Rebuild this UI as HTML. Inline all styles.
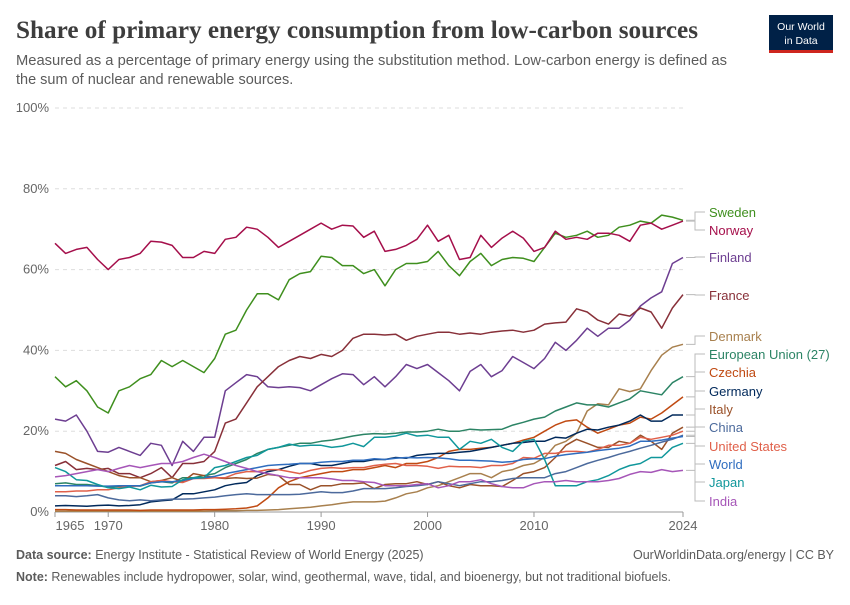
<!DOCTYPE html>
<html><head><meta charset="utf-8"><style>
body{margin:0;background:#fff;font-family:"Liberation Sans",sans-serif;}
</style></head><body>
<svg id="chart" width="850" height="600" viewBox="0 0 850 600" xmlns="http://www.w3.org/2000/svg" font-family="Liberation Sans, sans-serif">
<text x="16" y="38" style="font-family:'Liberation Serif',serif" font-weight="bold" font-size="25" fill="#3d3d3d" textLength="682" lengthAdjust="spacingAndGlyphs">Share of primary energy consumption from low-carbon sources</text>
<text x="16" y="65" font-size="14.5" fill="#5b5b5b" textLength="711" lengthAdjust="spacingAndGlyphs">Measured as a percentage of primary energy using the substitution method. Low-carbon energy is defined as</text>
<text x="16" y="84" font-size="14.5" fill="#5b5b5b">the sum of nuclear and renewable sources.</text>
<g>
<rect x="769" y="15" width="64" height="35" fill="#002147"/>
<rect x="769" y="50" width="64" height="3" fill="#ce261e"/>
<text x="801" y="30" text-anchor="middle" font-size="10.5" fill="#fff">Our World</text>
<text x="801" y="44" text-anchor="middle" font-size="10.5" fill="#fff">in Data</text>
</g>
<g id="grid"></g><g id="axes"></g><g id="series"></g><g id="legend"></g>
<text x="16" y="559" font-size="12.5" fill="#5b5b5b"><tspan font-weight="bold">Data source:</tspan> Energy Institute - Statistical Review of World Energy (2025)</text>
<text x="834" y="559" text-anchor="end" font-size="12.5" fill="#5b5b5b">OurWorldinData.org/energy | CC BY</text>
<text x="16" y="581" font-size="12.5" fill="#5b5b5b"><tspan font-weight="bold">Note:</tspan> Renewables include hydropower, solar, wind, geothermal, wave, tidal, and bioenergy, but not traditional biofuels.</text>
</svg>
<script>
const startYear = 1965;
const yTicks = [0,20,40,60,80,100];
const xTicks = [1965,1970,1980,1990,2000,2010,2024];
const names = ["Sweden","Norway","Finland","France","Denmark","European Union (27)","Czechia","Germany","Italy","China","United States","World","Japan","India"];
const sweden=[33.5,31,32.5,30,26,24.5,30,31,33,34,37.5,36,37.5,36,34.5,38,44,45,50,54,54,52.5,57.5,59,59.5,63.3,63,61,61,59,60,56,60,61.5,61.5,62,64.5,61,58.5,62,64,61,62.5,63,62.8,62,65.5,69,68,68.5,69.5,68,68.5,70.5,71,72,71.5,73.5,73,72.2];
const norway=[66.5,64,65,65.5,62.5,60,62.5,63,64,67,66.8,66,63,63,64.5,64,67.5,68,70.5,70,68,65.5,67,68.5,70,71.5,70,71,70.8,68,69.5,64.5,65,66,67.5,71,67,68.5,62.5,63,68.5,65.5,67.8,69.5,67.8,64.5,65.5,69.5,67.5,68,67.5,69,69,68.5,67,71,71.5,70,71,72];
const finland=[23,22.5,24,20,15,14.8,16,15,14,17,16.5,11.5,17.5,15,18.5,18.5,30,32,34,33.5,31,30.8,31,30.8,30,31.5,33,34.2,34,31.5,33.5,31,33.5,36.5,35.5,36.5,34.5,32.5,30,34.8,36.5,33.5,35,38.5,37,35.5,38,42,40,42.5,45.5,43.5,45.5,45.5,47.5,51,53,54.5,61.5,63];
const france=[11.5,12.5,10.5,10.8,10.5,10.8,9.5,9.5,8.5,9.5,11,8.5,12,12,12.5,15,22,23,27,31,33.5,36,37.5,38.5,38,39,38.5,40,43,44,44,43.8,44,42.5,43.5,44,44.5,44.5,44,44.3,44,44.5,44.8,45,44.5,45,46.5,46.8,47,50.3,49.5,47.5,46.5,49,48.5,50.5,49.5,45.5,50.5,53.8];
const denmark=[0.2,0.2,0.2,0.2,0.2,0.2,0.2,0.2,0.2,0.2,0.2,0.2,0.2,0.2,0.2,0.3,0.3,0.3,0.4,0.4,0.5,0.6,0.8,1,1.2,1.5,1.8,2.2,2.5,2.5,2.5,2.7,3.5,4.5,5,6,6.5,7.5,8.5,9.5,9.5,8.5,10,10.5,11.5,12,13.5,16.5,17.5,19.5,25,26.8,26.5,30.5,29.8,30.5,35,38.8,40.8,41.5];
const eu=[7,7.2,6.8,6.8,6.5,6.2,6.3,6.5,6.4,7.2,7.5,7.2,8.5,8.5,9,9.5,11,12,13,14.5,15.5,16,16.5,17,17,17.5,17.8,18.3,18.8,19.2,19.4,19.3,19.5,19.8,19.8,20,20.5,20,20,20.5,20.3,20.4,20.5,21.5,22.2,23,23.5,25,26,27,26.5,26.5,26,27,28,30,29.5,29,32,33.5];
const czechia=[0.6,0.6,0.5,0.5,0.5,0.5,0.5,0.5,0.4,0.5,0.5,0.5,0.5,0.5,0.6,0.6,0.7,0.8,1,1.5,3.5,6,7.5,8.5,9,9.5,10,10,10.5,10.5,11,11.5,11,12,12,12.5,13.5,15,15.5,15.5,15.8,16,16.5,17,17.8,18.5,20,21.5,22.5,22.8,21,19.5,20.5,21.5,22,23.5,23,24.5,26.5,28.5];
const germany=[1.5,1.6,1.5,1.4,1.6,1.7,1.5,1.6,1.8,2.5,2.8,3,4.5,4.5,5,5.5,6.5,7,7.3,9,10,10.5,11.3,12,12,11.5,11.5,12,12.5,12.5,13,13,13.5,13.3,14,14.3,14.5,14.5,14.8,15,15.5,16,16.5,17,17.2,17.5,17.5,18.5,18.3,19.5,20.5,20.3,21,21.5,22.5,24,22.5,22.5,24,24];
const italy=[15,14.5,13,12,11,10,9,8.5,8.5,7.5,7.8,8.5,7.5,9.5,9,8.5,8.3,8.5,8.3,8.4,9.3,9,6.8,6.8,5.5,6.5,6.5,7,7,7.2,5.8,6.8,7,7,7.5,6.8,7.5,6.5,6,6.8,6.5,6.5,6.3,7.8,9.5,10,11,13.5,16.5,18,17,16,16,17.5,17,19,17.5,15.5,19.5,21];
const china=[4,4,3.8,4,4.3,3.5,3,2.8,3,2.8,3,3.2,3.2,3.3,3.5,3.7,4,4.3,4.5,4.3,4.3,4.3,4.3,4.4,4.7,5,4.8,4.8,5.2,5.8,5.8,5.8,6,6.3,6.5,6.8,7.5,7,6.5,7,7.5,7.5,7.8,8.3,8.5,8.5,8.5,9.5,10,11,12,12.8,13.5,14.3,15,15.8,16.5,17.3,18,19];
const us=[5,5,5.2,5.2,5.5,5.5,6,6.3,6.5,7.5,7.8,7.5,7.3,8.3,8.3,8.5,8.5,9.5,10,10,10.5,10.5,10,9.5,10.3,10.8,11,10.8,11,11,11.5,11.8,12,11.5,11.5,11.3,10.8,11.3,11.2,11.2,11,11.5,11.5,12,13.5,13.3,14.5,14.5,15,15,14.8,15.5,16.5,16.5,17,18.5,18,18.5,19,20];
const world=[6.5,6.5,6.5,6.5,6.4,6.4,6.5,6.5,6.5,7.2,7.5,7.5,7.8,8.3,8.5,8.8,9.5,10,10.5,11,11.5,11.7,11.8,12,12,12.3,12.5,12.5,12.8,12.8,13.2,13,13.3,13.5,13.4,13.5,13.4,13.2,12.8,12.8,12.7,12.6,12.3,12.5,13,13.2,13.2,13.8,14.2,14.5,14.8,15.2,15.5,15.8,16.3,17.5,17.5,17.8,18.3,18.7];
const japan=[11,10,8,7.8,6.8,6,5.8,6.2,5.5,6.6,6.2,6.3,8,8.5,8.5,11,11.5,12.5,13.5,14,15.5,16,16.8,16.3,16.5,16.5,16,16.3,17,16.2,18.5,18.5,18.8,19.5,18.8,19,18.5,18.5,15.5,17.5,17,18,16,15,17.5,18,13,6.5,6.5,6.5,7.5,8,9,10.5,11.5,12,13.5,13.5,16,17];
const india=[8.7,9,9.5,10,10.5,10,10.8,11.5,11,11.5,12,12,12.5,13.5,14.3,13.5,12.5,11.5,10.8,10,9.5,9,8.5,8.5,8.5,8.5,8.2,7.8,7.8,7.5,7.3,6.5,6.5,6.5,6.8,7,6,6.5,7.5,7.5,8,7,6.3,6,6,7,7.5,7.5,7.8,7.5,7.5,7.5,7.8,8.3,9.3,10,9.8,10.5,10,10.3];
const seriesData=[sweden,norway,finland,france,denmark,eu,czechia,germany,italy,china,us,world,japan,india];
const colors=["#3f8f1e","#a50f4b","#6d3e91","#883039","#a8804e","#2c8465","#c04a12","#00295b","#9a5129","#4c6a9c","#e0604a","#2f6dbf","#10979b","#a656b8"];
const labelY=[212,230,257,295,336,354,372,391,409,427,446,464,482,501];
const keys=["sweden","norway","finland","france","denmark","european-union","czechia","germany","italy","china","united-states","world","japan","india"];

const NS="http://www.w3.org/2000/svg";
const x0=55,x1=683,yb=512,yt=108;
const xs=y=>x0+(y-1965)*(x1-x0)/(2024-1965);
const ys=v=>yb-v*(yb-yt)/100;
function mk(tag,attrs,parent){const e=document.createElementNS(NS,tag);for(const k in attrs)e.setAttribute(k,attrs[k]);parent.appendChild(e);return e;}
const grid=document.getElementById('grid'),axes=document.getElementById('axes'),ser=document.getElementById('series'),leg=document.getElementById('legend');
yTicks.forEach(t=>{
  if(t>0){const l=mk('line',{x1:x0,x2:x1,y1:ys(t),y2:ys(t),stroke:'#ddd','stroke-dasharray':'4,4'},grid);
  
  }
  const tx=mk('text',{x:49,y:ys(t)+4,'text-anchor':'end','font-size':13,fill:'#666'},axes);
  tx.textContent=t+'%';
  
  
});
const base=mk('line',{x1:x0,x2:x1,y1:yb,y2:yb,stroke:'#999'},axes);


xTicks.forEach(t=>{
  const tk=mk('line',{x1:xs(t),x2:xs(t),y1:yb,y2:yb+5,stroke:'#999'},axes);
  
  
  const off=t===1965?15:0;
  const tx=mk('text',{x:xs(t)+off,y:yb+18,'text-anchor':'middle','font-size':13,fill:'#666'},axes);
  tx.textContent=t;
  
  
});
seriesData.forEach((d,i)=>{
  const pts=d.map((v,j)=>xs(startYear+j).toFixed(1)+','+ys(v).toFixed(1)).join(' ');
  const p=mk('polyline',{points:pts,fill:'none',stroke:colors[i],'stroke-width':1.5,'stroke-linejoin':'round'},ser);
  
  
  const ey=ys(d[d.length-1]);
  const c=mk('polyline',{points:`${x1+3},${ey} ${x1+12},${ey} ${x1+12},${labelY[i]} ${x1+22},${labelY[i]}`,fill:'none',stroke:'#bbb','stroke-width':1},leg);
  
  
  const t=mk('text',{x:709,y:labelY[i]+5,'font-size':13,fill:colors[i]},leg);
  t.textContent=names[i];
  
  
});
</script>
</body></html>
